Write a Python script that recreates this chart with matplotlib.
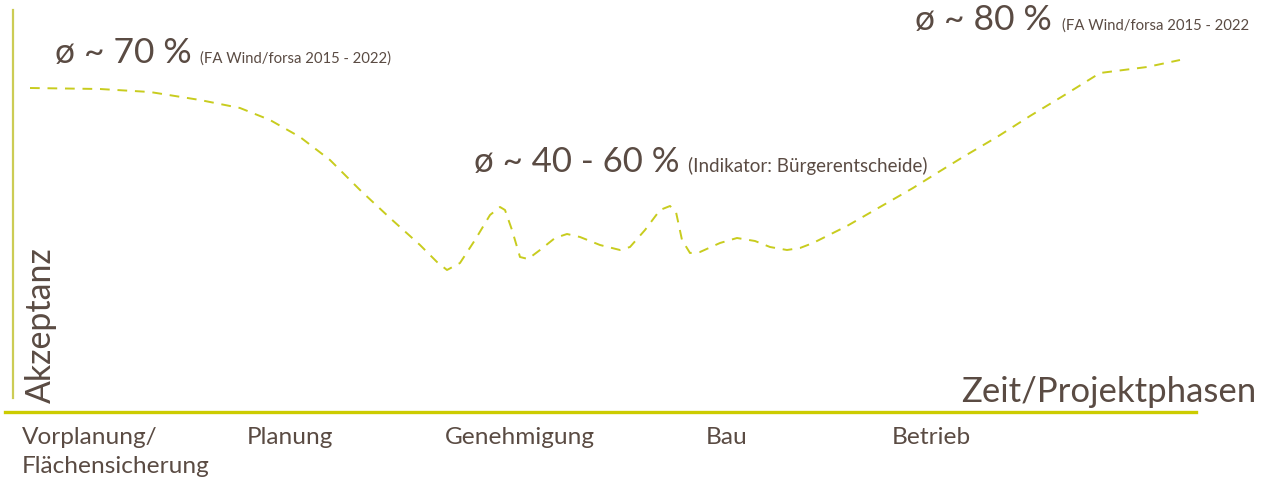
import matplotlib.pyplot as plt

# Akzeptanz-Verlauf, x = Zeit (px-Skala), y = Akzeptanz (Höhe über Grundlinie)
zeit = [30, 100, 150, 200, 240, 270, 300, 330, 360, 390, 420, 437, 447,
        460, 475, 490, 500, 505, 512, 520, 528, 540, 555, 567, 580, 600,
        620, 630, 645, 660, 670, 676, 682, 690, 700, 720, 737, 755, 770,
        787, 800, 813, 847, 880, 913, 937, 963, 997, 1030, 1063, 1100,
        1147, 1180]
akzeptanz_px = [88, 89, 92, 100, 108, 120, 137, 160, 190, 218, 245, 262, 270,
                263, 240, 215, 207, 210, 230, 257, 259, 250, 238, 234, 237, 245,
                250, 247, 230, 210, 206, 212, 240, 253, 252, 243, 238, 241, 247,
                250, 248, 243, 226, 207, 188, 173, 157, 137, 116, 96, 73,
                67, 60]
akzeptanz = [412 - v for v in akzeptanz_px]

phasen = ["Vorplanung/\nFlächensicherung", "Planung", "Genehmigung", "Bau", "Betrieb"]
phasen_x = [22, 247, 445, 706, 892]

grün = '#c8cc1e'
text_farbe = '#5a4b43'
plt.rcParams['font.family'] = ['Lato', 'DejaVu Sans']

fig = plt.figure(figsize=(12.63, 4.83), dpi=100)
ax = fig.add_axes([0, 0, 1, 1])
ax.set_xlim(0, 1263)
ax.set_ylim(-71, 412)
ax.axis('off')

# Achsen
ax.plot([13, 13], [14, 402], color='#cccc55', linewidth=1.6)
ax.plot([5, 1196], [0, 0], color='#cccc00', linewidth=2.4)

# Kurve
ax.plot(zeit, akzeptanz, color=grün, linewidth=1.4, linestyle=(0, (5, 4)))

# Beschriftungen
ax.text(55, 412 - 63, "ø ~ 70 %", fontsize=25.5, color=text_farbe, va='baseline')
ax.text(200, 412 - 63, "(FA Wind/forsa 2015 - 2022)", fontsize=10.7, color=text_farbe, va='baseline')
ax.text(915, 412 - 30, "ø ~ 80 %", fontsize=25.5, color=text_farbe, va='baseline')
ax.text(1062, 412 - 30, "(FA Wind/forsa 2015 - 2022", fontsize=10.7, color=text_farbe, va='baseline')
ax.text(474, 412 - 172, "ø ~ 40 - 60 %", fontsize=25, color=text_farbe, va='baseline')
ax.text(688, 412 - 172, "(Indikator: Bürgerentscheide)", fontsize=13.5, color=text_farbe, va='baseline')

ax.text(57, 412 - 403, "Akzeptanz", fontsize=24.4, color=text_farbe, rotation=90,
        ha='right', va='bottom')
ax.text(1256, 412 - 402, "Zeit/Projektphasen", fontsize=25, color=text_farbe,
        ha='right', va='baseline')

for name, x in zip(phasen, phasen_x):
    ax.text(x, 412 - 427, name, fontsize=17.6, color=text_farbe, ha='left', va='top',
            linespacing=1.45)

plt.savefig("out.png", dpi=100)
plt.close()
